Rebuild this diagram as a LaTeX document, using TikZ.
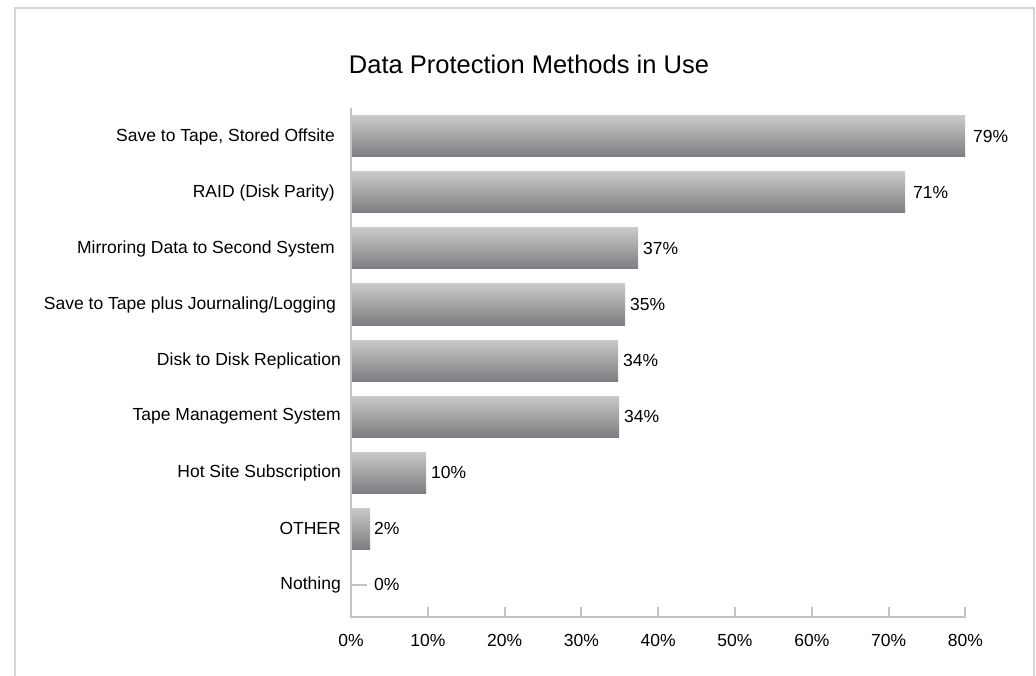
\documentclass[tikz,border=0pt]{standalone}
\usepackage{fontspec}
\setmainfont{Liberation Sans}

\definecolor{frameGray}{HTML}{D4D4D4}
\definecolor{axisGray}{HTML}{C2C2C6}
\definecolor{barTop}{HTML}{C8C8CA}
\definecolor{barBot}{HTML}{7E7E82}

\tikzset{
    axisline/.style={draw=axisGray, line width=2pt},
    catlabel/.style={anchor=east, inner sep=0pt, font=\fontsize{17.5}{21}\selectfont},
    vallabel/.style={anchor=west, inner sep=0pt, font=\fontsize{17.5}{21}\selectfont},
    ticklabel/.style={inner sep=0pt, font=\fontsize{17.5}{21}\selectfont},
    bar/.style={top color=barTop, bottom color=barBot}
}

\begin{document}
\begin{tikzpicture}[x=1pt, y=-1pt]

    % Fix the picture size to the reference (1036 x 676)
    \useasboundingbox (0,0) rectangle (1036,676);

    % Outer frame, open at the bottom
    \draw[draw=frameGray, line width=2pt] (15,676) -- (15,8) -- (1034,8) -- (1034,676);

    % Title
    \node[font=\fontsize{25.5}{30}\selectfont] (title) at (529,64) {Data Protection Methods in Use};

    % Axis corner and ends
    \coordinate (O) at (351,617);
    \coordinate (T) at (351,108);
    \coordinate (E) at (966,617);

    % Bars: index / right end / label gap / category / value / right edge of category
    \foreach \i/\len/\gap/\txt/\val/\lx in {
        0/965/8/{Save to Tape, Stored Offsite}/79/335,
        1/905/8/{RAID (Disk Parity)}/71/335,
        2/638/5/{Mirroring Data to Second System}/37/335,
        3/625/5/{Save to Tape plus Journaling/Logging}/35/336,
        4/618/5/{Disk to Disk Replication}/34/341,
        5/619/5/{Tape Management System}/34/341,
        6/426/5/{Hot Site Subscription}/10/341,
        7/370/4/{OTHER}/2/341}
    {
        \pgfmathsetmacro\yc{136.5+56*\i}
        \shade[bar] (352,\yc-20.5) rectangle (\len,\yc+20.5);
        \node[catlabel] (lab\i) at (\lx,\yc) {\txt};
        \node[vallabel] (val\i) at (\len+\gap,\yc) {\val\%};
    }

    % Last category has no bar, only a short stub
    \coordinate (N0) at (351,584.5);
    \coordinate (N1) at (367,584.5);
    \draw[axisline] (N0) -- (N1);
    \node[catlabel] (lab8) at (341,584.5) {Nothing};
    \node[vallabel] (val8) at (374,584.5) {0\%};

    % Axes
    \draw[axisline] (T) -- (O) -- (E);

    % Ticks and tick labels on the value axis
    \foreach \k in {0,...,8}
    {
        \pgfmathtruncatemacro\pc{10*\k}
        \pgfmathsetmacro\xt{351+76.8*\k}
        \ifnum\k>0
            \draw[axisline] (\xt,617) -- (\xt,607);
        \fi
        \node[ticklabel] (tick\k) at (\xt,640) {\pc\%};
    }

\end{tikzpicture}
\end{document}
